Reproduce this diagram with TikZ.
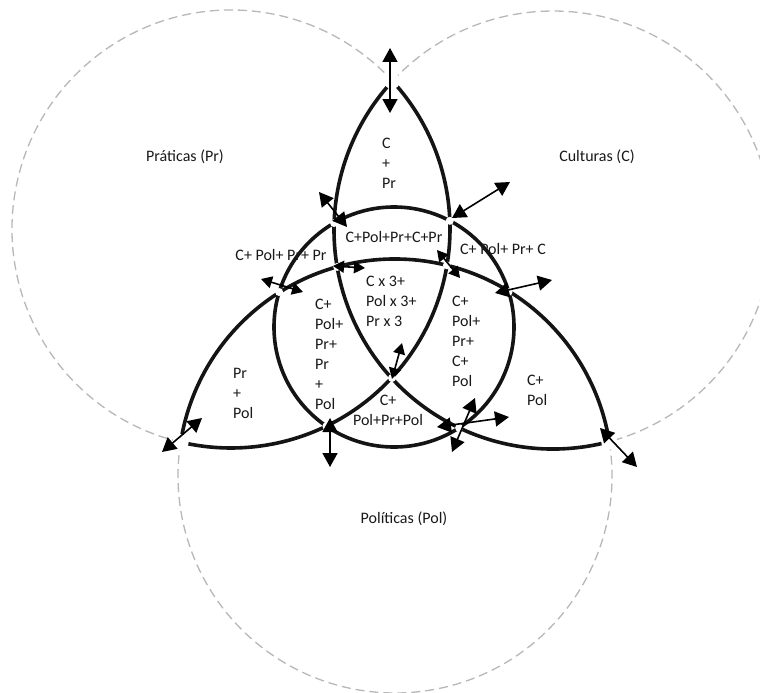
\documentclass[tikz,border=0pt]{standalone}
\usepackage{fontspec}
\setmainfont{Carlito}
\usetikzlibrary{arrows.meta}
\begin{document}
\begin{tikzpicture}[x=1pt,y=-1pt,
  venn/.style={line width=3.6pt, black!92},
  outer/.style={line width=1.3pt, black!28, dash pattern=on 9pt off 5pt},
  lbl/.style={font=\fontsize{16}{20}\selectfont, text=black!90, inner sep=0pt, align=left},
  dbl/.style={line width=1.6pt, black, {Triangle[length=14pt,width=15pt]}-{Triangle[length=14pt,width=15pt]}},
  dblsmall/.style={line width=1.6pt, black, {Triangle[length=11pt,width=12pt]}-{Triangle[length=11pt,width=12pt]}},
  gapdot/.style={fill=white, draw=none}]
\useasboundingbox[fill=white] (0,0) rectangle (760,693);

% circle centres
\coordinate (cPr)  at (231,229);
\coordinate (cC)   at (553,230);
\coordinate (cPol) at (395,476);
\coordinate (cO)   at (394,327);

% outer (dashed) parts of the three circles
\draw[outer] (cPr)  ++(103.3:219) arc[start angle=103.3, end angle=317.4, radius=219];
\draw[outer] (cC)   ++(222.8:219) arc[start angle=222.8, end angle=435.1, radius=219];
\draw[outer] (cPol) ++(-9.1:217)  arc[start angle=-9.1, end angle=189.0, radius=217];

% inner (black) parts of the three circles
\draw[venn] (cPr)  ++(-42.6:219) arc[start angle=-42.6, end angle=103.3, radius=219];
\draw[venn] (cC)   ++(75.1:219)  arc[start angle=75.1, end angle=222.8, radius=219];
\draw[venn] (cPol) ++(189.0:217) arc[start angle=189.0, end angle=350.9, radius=217];
% central circle
\draw[venn] (cO) circle[radius=120];

% crossing points
\coordinate (T)   at (392,81);
\coordinate (BL)  at (180.7,442.1);
\coordinate (BR)  at (609.2,441.7);
\coordinate (xPrC)   at (392,378);
\coordinate (xPrPol) at (446.9,265.3);
\coordinate (xCPol)  at (337.2,266.9);
\coordinate (oC1)  at (334.1,223.0);
\coordinate (oC2)  at (459.1,427.8);
\coordinate (oPr1) at (449.8,220.8);
\coordinate (oPr2) at (326.4,426.2);
\coordinate (oPl1) at (279.1,292);
\coordinate (oPl2) at (508.5,292);

% gaps
\foreach \p in {T,BL,BR} \fill[gapdot] (\p) circle[radius=8];
\foreach \p in {xPrC,xPrPol,xCPol,oC1,oC2,oPr1,oPr2,oPl1,oPl2} \fill[gapdot] (\p) circle[radius=4];

% labels
\node[lbl] (lPr)  at (185,157) {Práticas (Pr)};
\node[lbl] (lC)   at (597,157) {Culturas (C)};
\node[lbl] (lPol) at (404,519) {Políticas (Pol)};
\node[lbl, anchor=west] (rCPr) at (382,163) {C\\+\\Pr};
\node[lbl] (rTop) at (394,237) {C+Pol+Pr+C+Pr};
\node[lbl] (rPrC) at (281,255) {C+ Pol+ Pr+ Pr};
\node[lbl] (rCC)  at (503,249) {C+ Pol+ Pr+ C};
\node[lbl, anchor=west] (rMid) at (366,301) {C x 3+\\Pol x 3+\\Pr x 3};
\node[lbl, anchor=west] (rL)   at (315,354) {C+\\Pol+\\Pr+\\Pr\\+\\Pol};
\node[lbl, anchor=west] (rR)   at (452,341) {C+\\Pol+\\Pr+\\C+\\Pol};
\node[lbl, align=center] (rB)  at (388,410) {C+\\Pol+Pr+Pol};
\node[lbl, anchor=west] (rPrPol) at (233,393) {Pr\\+\\Pol};
\node[lbl, anchor=west] (rCPol)  at (527,390) {C+\\Pol};

% arrow end points
\coordinate (a1s) at (390,48);   \coordinate (a1e) at (390,113);
\coordinate (a2s) at (319,192);  \coordinate (a2e) at (347,227);
\coordinate (a3s) at (452,218);  \coordinate (a3e) at (510,182);
\coordinate (a4s) at (261,279);  \coordinate (a4e) at (303,292);
\coordinate (a5s) at (333,266);  \coordinate (a5e) at (365,268);
\coordinate (a6s) at (437,250);  \coordinate (a6e) at (460,278);
\coordinate (a7s) at (495,293);  \coordinate (a7e) at (552,280);
\coordinate (a8s) at (392,379);  \coordinate (a8e) at (402,343);
\coordinate (a9s) at (162,452);  \coordinate (a9e) at (202,418);
\coordinate (a10s) at (330,418); \coordinate (a10e) at (330,467);
\coordinate (a11s) at (437,427); \coordinate (a11e) at (509,417);
\coordinate (a12s) at (475,398); \coordinate (a12e) at (452,452);
\coordinate (a13s) at (600,428); \coordinate (a13e) at (637,467);

\foreach \i in {1,2,3,7,9,10,11,12,13} \draw[dbl] (a\i s) -- (a\i e);
\foreach \i in {4,5,6,8} \draw[dblsmall] (a\i s) -- (a\i e);
\end{tikzpicture}
\end{document}
